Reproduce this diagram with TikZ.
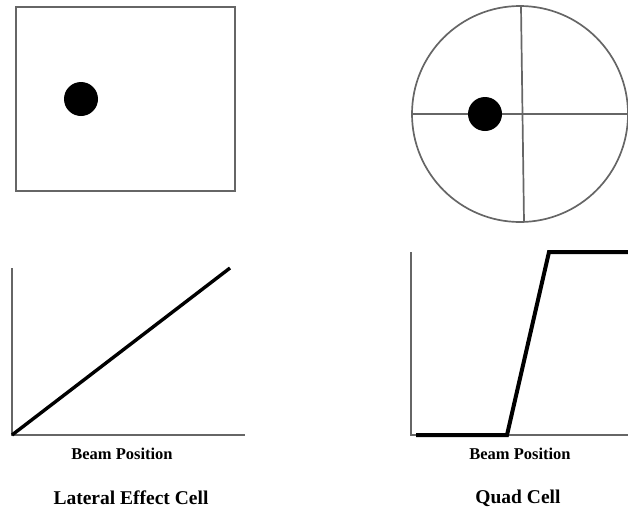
\documentclass[tikz,border=0pt]{standalone}
\usepackage{fontspec}
\setmainfont{Liberation Serif}
\usepackage{tikz}
\usetikzlibrary{positioning, calc}

\tikzset{
    frame/.style={draw=black!60, line width=1.7pt},
    spot/.style={circle, fill=black, inner sep=0pt, minimum size=34pt},
    curve/.style={line width=3.4pt, line join=miter},
    axislabel/.style={font=\bfseries\fontsize{16.5}{18}\selectfont, inner sep=0pt},
    caption/.style={font=\bfseries\fontsize{19.5}{22}\selectfont, inner sep=0pt}
}

\begin{document}
\begin{tikzpicture}[x=1pt, y=-1pt]
    \useasboundingbox (0,0) rectangle (628,509);

    % Lateral effect cell: square with spot
    \draw[frame] (16,7) rectangle (235,191);
    \node[spot] (spotL) at (81,99) {};

    % Quad cell: circle, quadrants and spot
    \draw[frame] (520,114) circle (108);
    \draw[frame] (411,114) -- (628,114);
    \draw[frame] (521,7) -- (524,222);
    \node[spot] (spotQ) at (485,114) {};

    % Left plot
    \coordinate (oL) at (12,435);
    \draw[frame] (12,268) -- (oL) -- (245,435);
    \draw[curve] (oL) -- (230,268);
    \node[axislabel] (beamL) at (122,454) {Beam Position};
    \node[caption] (capL) at (131,498) {Lateral Effect Cell};

    % Right plot
    \coordinate (oR) at (411,435);
    \draw[frame] (411,252) -- (oR) -- (628,435);
    \draw[curve, line width=4pt] (416,435) -- (507,435) -- (549,252) -- (628,252);
    \node[axislabel] (beamR) at (520,454) {Beam Position};
    \node[caption] (capR) at (518,498) {Quad Cell};
\end{tikzpicture}
\end{document}
